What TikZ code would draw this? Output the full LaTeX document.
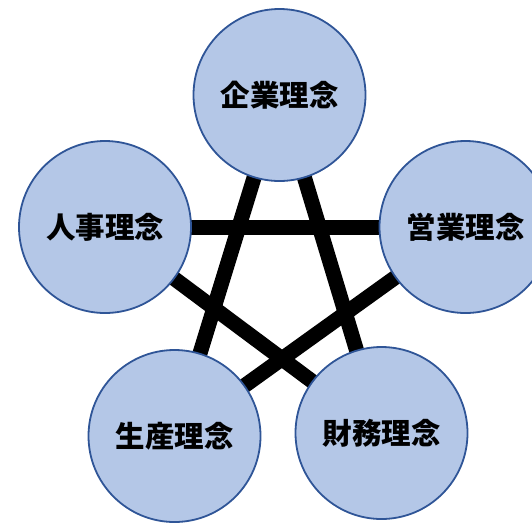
\documentclass[tikz,border=0pt]{standalone}
\usepackage{fontspec}
\newfontfamily\cjk{Noto Sans CJK JP}
\definecolor{circfill}{HTML}{B4C7E7}
\definecolor{circline}{HTML}{2F5597}
\begin{document}
\begin{tikzpicture}[x=1pt,y=-1pt,
  rnode/.style={circle,draw=circline,line width=1.8pt,fill=circfill,minimum size=172pt,inner sep=0pt,font=\cjk\bfseries\fontsize{29.5}{31}\selectfont},
  link/.style={line width=15pt,black}]
\useasboundingbox (0,0) rectangle (532,528);
\clip (0,0) rectangle (532,528);
\coordinate (ct) at (279.5,95);
\coordinate (cl) at (105,227);
\coordinate (cr) at (465.5,227);
\coordinate (cbl) at (174.5,436);
\coordinate (cbr) at (381.5,433);
\draw[link] (ct) -- (cbl);
\draw[link] (ct) -- (cbr);
\draw[link] (cl) -- (cr);
\draw[link] (cl) -- (cbr);
\draw[link] (cr) -- (cbl);
\node[rnode] (top) at (ct) {企業理念};
\node[rnode] (left) at (cl) {人事理念};
\node[rnode] (right) at (cr) {営業理念};
\node[rnode] (bl) at (cbl) {生産理念};
\node[rnode] (br) at (cbr) {財務理念};
\end{tikzpicture}
\end{document}
